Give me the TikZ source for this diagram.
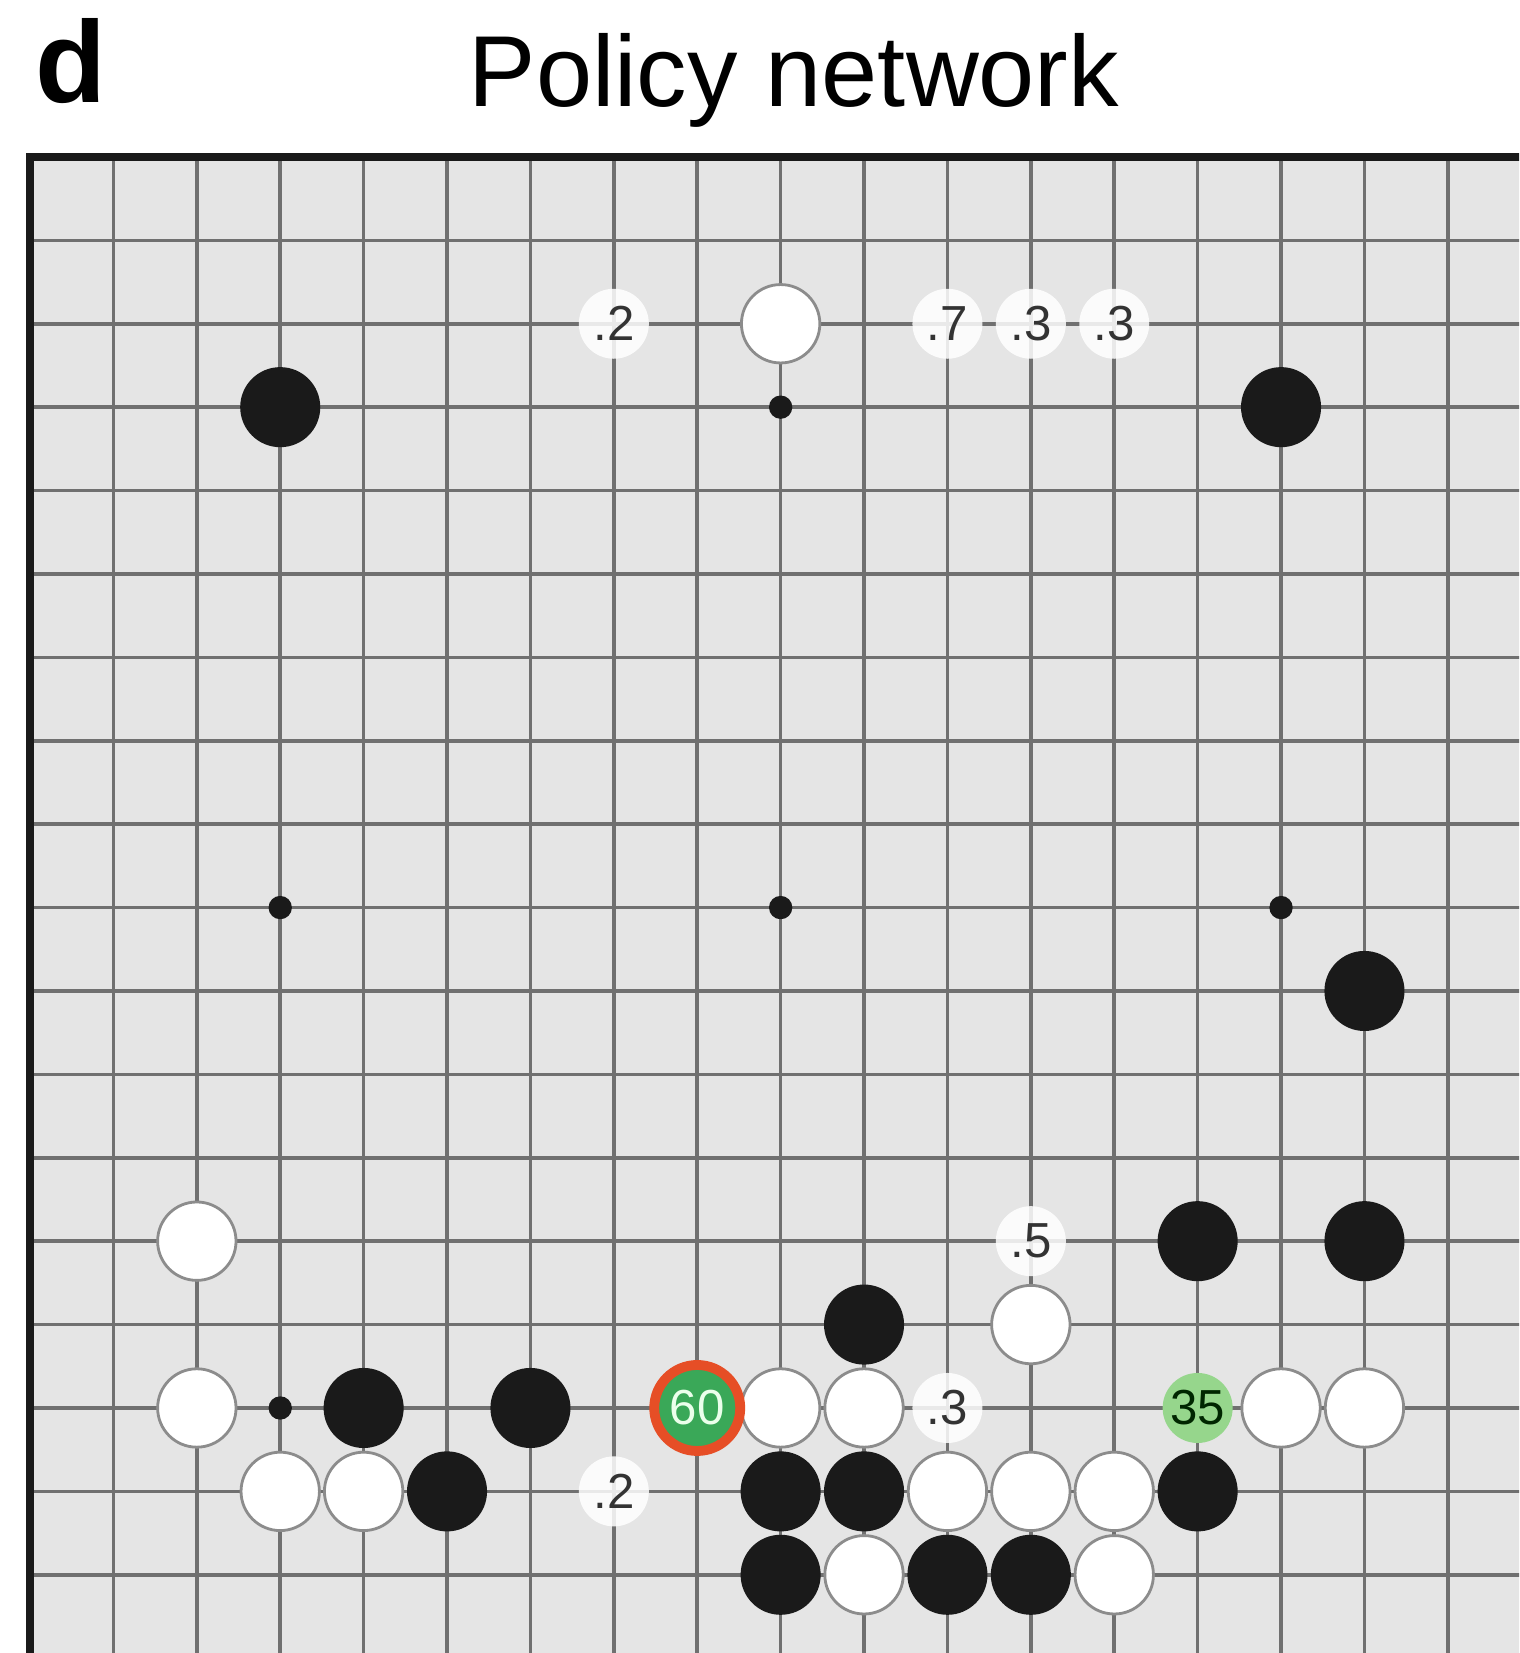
\documentclass[tikz,border=0pt]{standalone}
\usepackage{fontspec}
\setmainfont{Liberation Sans}
\usepackage{xcolor}
\usepackage{tikz}
\definecolor{boardgray}{RGB}{229,229,229}
\definecolor{gridgray}{RGB}{112,112,112}
\definecolor{stoneblack}{RGB}{26,26,26}
\definecolor{movegreen}{RGB}{58,168,88}
\definecolor{ringred}{RGB}{230,78,38}
\definecolor{palegreen}{RGB}{150,214,140}

\begin{document}
\begin{tikzpicture}[x=0.834cm,y=-0.834cm,every node/.style={font=\fontsize{14}{14}\selectfont},
  wstone/.style={fill=white,draw=black!45,line width=0.8pt},
  bstone/.style={fill=stoneblack},
  prob/.style={circle,fill=white,fill opacity=0.85,text opacity=1,text=black!80,inner sep=0pt,minimum size=0.70cm}]
  \useasboundingbox (-0.36,-1.882) rectangle (17.854,17.938);
  \clip (-0.36,-1.882) rectangle (17.854,17.938);
  \fill[boardgray] (0,0) rectangle (18.5,18.5);
  \foreach \k in {1,...,18}{
    \draw[gridgray,line width=1pt] (\k,0)--(\k,18.5);
    \draw[gridgray,line width=1pt] (0,\k)--(18.5,\k);
  }
  \draw[stoneblack,line width=2.4pt] (18.5,0)--(0,0)--(0,18.5);
  \foreach \c/\r in {3/3,9/3,15/3,3/9,9/9,15/9,3/15,9/15,15/15}
    \fill[stoneblack] (\c,\r) circle (0.14);
  \foreach \c/\r in {3/3,15/3,16/10,14/13,16/13,10/14,4/15,6/15,5/16,9/16,10/16,14/16,9/17,11/17,12/17}
    \fill[bstone] (\c,\r) circle (0.48);
  \foreach \c/\r in {9/2,2/13,12/14,2/15,9/15,10/15,15/15,16/15,3/16,4/16,11/16,12/16,13/16,10/17,13/17}
    \filldraw[wstone] (\c,\r) circle (0.47);
  \node[prob] (p72) at (7,2) {.2};
  \node[prob] (p112) at (11,2) {.7};
  \node[prob] (p122) at (12,2) {.3};
  \node[prob] (p132) at (13,2) {.3};
  \node[prob] (p1213) at (12,13) {.5};
  \node[prob] (p1115) at (11,15) {.3};
  \node[prob] (p716) at (7,16) {.2};
  \node[circle,fill=movegreen,draw=ringred,line width=2.8pt,inner sep=0pt,minimum size=0.86cm,text=green!8] (best) at (8,15) {60};
  \node[circle,fill=palegreen,inner sep=0pt,minimum size=0.70cm,text=black!85!green] (second) at (14,15) {35};
  \node[anchor=base,font=\fontsize{28.7}{30}\selectfont] (title) at (9.16,-0.60) {Policy network};
  \node[anchor=base west,inner sep=0pt,font=\bfseries\fontsize{33}{34}\selectfont] (panel) at (0.06,-0.647) {d};
\end{tikzpicture}
\end{document}
